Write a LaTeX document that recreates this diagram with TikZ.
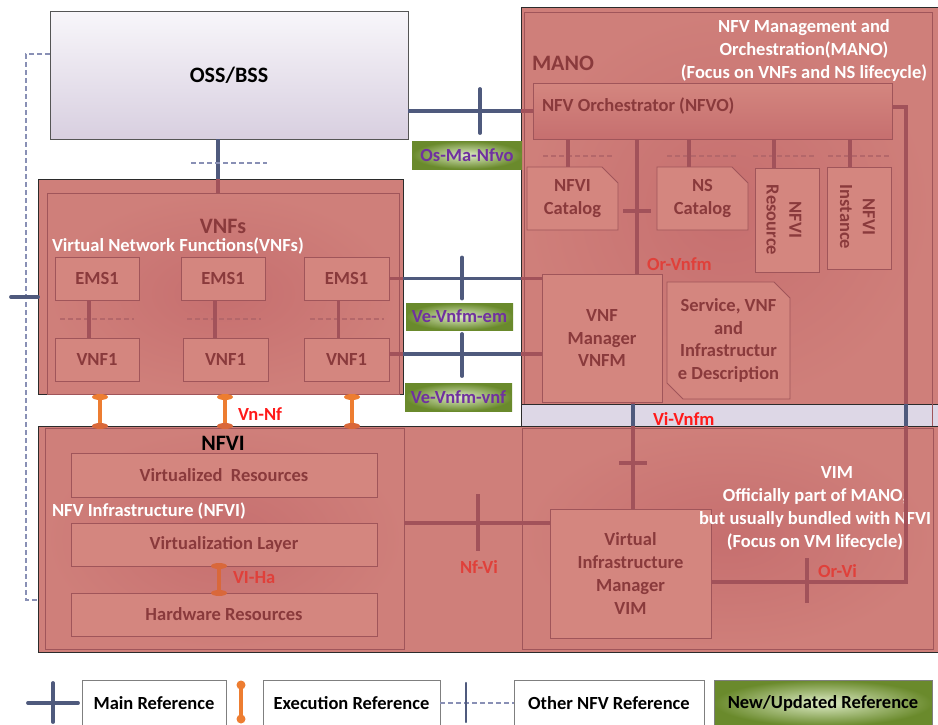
\documentclass[tikz,border=0pt]{standalone}
\usepackage{fontspec}
\setmainfont{Carlito}
\usetikzlibrary{calc,shapes.misc}

\definecolor{pinkfill}{HTML}{CF7F7A}
\definecolor{pinkdeep}{HTML}{C66F6F}
\definecolor{pinkin}{HTML}{D4867F}
\definecolor{pinkedge}{HTML}{A0555A}
\definecolor{darkred}{HTML}{8A3A3C}
\definecolor{refred}{HTML}{E0403A}
\definecolor{brightred}{HTML}{FF1A1A}
\definecolor{mainline}{HTML}{4F5A7D}
\definecolor{innerline}{HTML}{A2525A}
\definecolor{innerdash}{HTML}{B4676A}
\definecolor{otherline}{HTML}{8990B5}
\definecolor{execline}{HTML}{ED7D31}
\definecolor{execdark}{HTML}{D9683A}
\definecolor{lavtop}{HTML}{F8F6FA}
\definecolor{lavbot}{HTML}{D8CFE0}
\definecolor{bandfill}{HTML}{DDD7E6}
\definecolor{labelpurple}{HTML}{7030A0}
\definecolor{greenlight}{HTML}{DDEBC6}
\definecolor{greendark}{HTML}{6A8A2C}
\definecolor{frame}{HTML}{2B2B2B}
\definecolor{legendedge}{HTML}{7F7F7F}

\newcommand{\fsz}[2]{\fontsize{#1}{#2}\selectfont}

\begin{document}
\begin{tikzpicture}[x=1pt,y=-1pt,
  every node/.style={inner sep=0pt, outer sep=0pt},
  wh/.style 2 args={minimum width=#1pt, minimum height=#2pt},
  txt/.style={font=\bfseries\fsz{18.5}{22.7}, align=center},
  head/.style={font=\bfseries\fsz{22}{26}},
  region/.style={draw=frame, line width=1pt, fill=pinkfill},
  subregion/.style={draw=pinkedge, line width=0.9pt, inner color=pinkdeep, outer color=pinkfill},
  block/.style={draw=pinkedge, line width=0.9pt, fill=pinkin, text=darkred, txt},
  snipped/.style={block, chamfered rectangle, chamfered rectangle sep=8pt, chamfered rectangle corners={#1}},
  mainref/.style={draw=mainline, line width=3.8pt},
  innerref/.style={draw=innerline, line width=3.6pt},
  otherref/.style={draw=otherline, line width=1.3pt, dash pattern=on 5pt off 3pt},
  innerother/.style={draw=innerdash, line width=1.3pt, dash pattern=on 5pt off 3pt},
  execref/.style={draw=execline, line width=4.5pt},
  reflabel/.style={txt, text=refred},
  newref/.style={shading=radial, inner color=greenlight, outer color=greendark, text=labelpurple, txt},
  note/.style={txt, text=white, font=\bfseries\fsz{18.5}{22.8}},
  legendbox/.style={draw=legendedge, line width=0.8pt, fill=white, text=black, font=\bfseries\fsz{18.5}{22}},
]
\useasboundingbox (0,0) rectangle (938,724);
\fill[white] (0,0) rectangle (938,724);

% ---------- regions ----------
\node[draw=frame!80, line width=1pt, top color=lavtop, bottom color=lavbot, wh={358}{128}, head] (oss) at (229,75) {OSS/BSS};

\node[region, wh={365}{215}] (vnfs) at (220.5,286.5) {};
\node[subregion, wh={352}{201}] (vnfsin) at (223,293.5) {};

\node[region, wh={417}{397}] (mano) at (729.5,205.5) {};
\node[subregion, wh={408}{392}] (manoin) at (728,208) {};
\node[draw=frame, line width=1pt, fill=bandfill, wh={417}{22}] (band) at (729.5,415) {};

\node[region, wh={900}{226}] (nfviout) at (488,539) {};
\node[subregion, wh={359}{221}] (nfviin) at (224.5,538.5) {};
\node[draw=pinkedge, line width=0.9pt, inner color=pinkdeep, outer color=pinkfill, wh={411}{221}] (viminf) at (727.5,538.5) {};
\draw[draw=pinkedge, line width=0.9pt] (manoin.east |- band.north) -- (manoin.east |- band.south);

% ---------- VNF blocks ----------
\node[block, wh={84}{43}] (emsA) at (97,278.5) {EMS1};
\node[block, wh={84}{43}] (emsB) at (223,278.5) {EMS1};
\node[block, wh={85}{43}] (emsC) at (346.5,278.5) {EMS1};
\node[block, wh={84}{43}] (vnfA) at (97,359.5) {VNF1};
\node[block, wh={85}{43}] (vnfB) at (225.5,359.5) {VNF1};
\node[block, wh={85}{43}] (vnfC) at (346.5,359.5) {VNF1};

% ---------- MANO blocks ----------
\node[block, wh={359}{56}, top color=pinkin, bottom color=pinkdeep] (nfvo) at (712.5,111) {};
\node[snipped={north east}, wh={91}{63}] (cat1) at (572.5,198.5) {NFVI\\Catalog};
\node[snipped={north east}, wh={91}{63}] (cat2) at (702.5,198.5) {NS\\Catalog};
\node[snipped={south east}, wh={64}{104}] (res) at (787,220) {};
\node[snipped={south east}, wh={64}{102}] (inst) at (859,218) {};
\node[block, wh={120}{128}] (vnfm) at (602,338) {VNF\\Manager\\VNFM};
\node[snipped={north east, south west}, wh={123}{117}] (desc) at (728.5,340.5) {Service, VNF\\and\\Infrastructur\\e Description};
\node[block, wh={161}{129}] (vim) at (630.5,573.5) {Virtual\\Infrastructure\\Manager\\VIM};

% ---------- NFVI blocks ----------
\node[block, wh={306}{44}] (vres) at (224,475) {Virtualized\ \ Resources};
\node[block, wh={306}{43}] (vlayer) at (224,544.5) {Virtualization Layer};
\node[block, wh={306}{43}] (hw) at (224,614.5) {Hardware Resources};

% ---------- titles ----------
\node[head, text=darkred] (vnfstitle) at (223,226) {VNFs};
\node[note, anchor=west] (vnfsnote) at (52,246) {Virtual Network Functions(VNFs)};
\node[head, text=darkred, anchor=west] (manotitle) at (532,63) {MANO};
\node[note] (manonote) at (804,50.5) {NFV Management and\\Orchestration(MANO)\\(Focus on VNFs and NS lifecycle)};
\node[txt, text=darkred, anchor=west] (nfvotext) at (542,106) {NFV Orchestrator (NFVO)};
\node[txt, text=darkred, rotate=-90] (restext) at (784,220) {NFVI\\Resource};
\node[txt, text=darkred, rotate=-90] (insttext) at (857.5,217) {NFVI\\Instance};
\node[head, text=black] (nfvititle) at (223,443) {NFVI};
\node[note, anchor=west] (nfvinote) at (52,511) {NFV Infrastructure (NFVI)};
\node[note] (vimnote) at (815,508.5) {\hspace*{44pt}VIM\\Officially part of MANO,\\but usually bundled with NFVI\\(Focus on VM lifecycle)};

% ---------- OSS/BSS to VNFs ----------
\draw[mainref] ([xshift=-11pt]oss.south) -- ([xshift=-11pt]oss.south |- vnfs.north);
\draw[innerref] ([xshift=-11pt]oss.south |- vnfs.north) -- ([xshift=-11pt]oss.south |- vnfsin.north);
\draw[otherref] ($(oss.south)+(-38,24)$) -- ($(oss.south)+(38,24)$);

% ---------- other reference on the left ----------
\coordinate (lefttop) at (26,54);
\coordinate (leftbot) at (26,600);
\draw[otherref] (lefttop -| oss.west) -- (lefttop) -- (leftbot) -- (leftbot -| nfviout.west);
\coordinate (stub) at (11,297);
\draw[mainref, line cap=round] (stub) -- (stub -| vnfs.west);

% ---------- Os-Ma-Nfvo ----------
\draw[mainref] (nfvo.west -| oss.east) -- (nfvo.west -| mano.west);
\draw[innerref] (nfvo.west -| mano.west) -- (nfvo.west);
\draw[mainref, line cap=round] ($(nfvo.west -| oss.east)+(72,-22)$) -- ++(0,44);
\node[newref, wh={110}{28}] (osmalab) at (467,155) {Os-Ma-Nfvo};

% ---------- Ve-Vnfm-em ----------
\draw[innerref] (emsC.east) -- (emsC.east -| vnfs.east);
\draw[mainref] (emsC.east -| vnfs.east) -- (emsC.east -| mano.west);
\draw[innerref] (emsC.east -| mano.west) -- (emsC.east -| vnfm.west);
\draw[mainref, line cap=round] ($(emsC.east -| vnfs.east)+(59,-21)$) -- ++(0,41);
\node[newref, wh={107}{27}] (vemlab) at (459.5,316.5) {Ve-Vnfm-em};

% ---------- Ve-Vnfm-vnf ----------
\path ([yshift=5.5pt]vnfC.east) coordinate (vvnf);
\draw[innerref] (vvnf) -- (vvnf -| vnfs.east);
\draw[mainref] (vvnf -| vnfs.east) -- (vvnf -| mano.west);
\draw[innerref] (vvnf -| mano.west) -- (vvnf -| vnfm.west);
\draw[mainref, line cap=round] ($(vvnf -| vnfs.east)+(59,-20)$) -- ++(0,42);
\node[newref, wh={107}{28}] (vvnflab) at (458.5,397) {Ve-Vnfm-vnf};

% ---------- EMS -- VNF links ----------
\foreach \e/\v in {emsA/vnfA, emsB/vnfB, emsC/vnfC} {
  \draw[innerother] ($(\e.south)!0.5!(\v.north)+(-37,0)$) -- ++(74,0);
  \draw[innerref] ([xshift=-8pt]\e.south) -- ([xshift=-8pt]\e.south |- \v.north);
}

% ---------- Vn-Nf ----------
\foreach \dx in {-120.5, 4.5, 131.5} {
  \draw[execref] ([xshift=\dx pt]vnfs.south) -- ([xshift=\dx pt]vnfs.south |- nfviout.north);
  \fill[execline] ($([xshift=\dx pt]vnfs.south)+(0,3)$) ellipse (8 and 3);
  \fill[execdark] ([xshift=\dx pt]vnfs.south |- nfviout.north) ellipse (8 and 3);
}
\node[txt, text=brightred, anchor=west] (vnnflab) at (238,414) {Vn-Nf};

% ---------- NFVO to catalogs ----------
\foreach \n/\dx/\dl/\len in {cat1/-4.5/-29.5/69, cat2/-13.5/-35.5/70, res/-13/-34/61, inst/-9/-31/61} {
  \draw[innerother] ($(\n.north |- nfvo.south)+(\dl,17)$) -- ++(\len,0);
  \draw[innerref] ([xshift=\dx pt]\n.north |- nfvo.south) -- ([xshift=\dx pt]\n.north);
}

% ---------- Or-Vnfm ----------
\draw[innerref] ([xshift=35pt]vnfm.north |- nfvo.south) -- ([xshift=35pt]vnfm.north);
\draw[innerref] ($([xshift=35pt]vnfm.north)+(-14,-63)$) -- ++(28,0);
\node[reflabel, anchor=west] (orvnfmlab) at (647,264) {Or-Vnfm};

% ---------- Vi-Vnfm ----------
\draw[innerref] ([xshift=31pt]vnfm.south) -- ([xshift=31pt]vnfm.south |- vim.north);
\draw[mainref] ([xshift=31pt]vnfm.south |- band.north) -- ([xshift=31pt]vnfm.south |- band.south);
\draw[innerref] ($([xshift=31pt]vnfm.south |- vim.north)+(-14,-46)$) -- ++(28,0);
\node[txt, text=brightred, anchor=west] (vivnfmlab) at (653,419) {Vi-Vnfm};

% ---------- Or-Vi ----------
\coordinate (orvitop) at (906,107);
\coordinate (orvibot) at (906,582);
\draw[innerref] (orvitop -| nfvo.east) -- (orvitop) -- (orvibot) -- (orvibot -| vim.east);
\draw[mainref] (orvitop |- band.north) -- (orvitop |- band.south);
\draw[innerref] ($(orvibot)+(-99,-24)$) -- ++(0,45);
\node[reflabel, anchor=west] (orvilab) at (818,571) {Or-Vi};

% ---------- Nf-Vi ----------
\path ([yshift=50.5pt]vim.west) coordinate (nfvipt);
\draw[innerref] (nfvipt -| nfviin.east) -- (nfvipt);
\draw[innerref] ($(nfvipt -| nfviin.east)+(74,-29)$) -- ++(0,57);
\node[reflabel] (nfvilab) at (479,567) {Nf-Vi};

% ---------- VI-Ha ----------
\draw[execref, draw=execdark] ([xshift=-5pt]vlayer.south) -- ([xshift=-5pt]vlayer.south |- hw.north);
\fill[execdark] ([xshift=-5pt]vlayer.south) ellipse (8 and 3);
\fill[execdark] ([xshift=-5pt]vlayer.south |- hw.north) ellipse (8 and 3);
\node[reflabel, anchor=west] (vihalab) at (233,578) {VI-Ha};

% ---------- legend ----------
\node[legendbox, wh={144}{46}, anchor=north west] (lg1) at (82,680) {Main Reference};
\node[legendbox, wh={177}{46}, anchor=north west] (lg2) at (263,680) {Execution Reference};
\node[legendbox, wh={190}{46}, anchor=north west] (lg3) at (514,680) {Other NFV Reference};
\node[legendbox, wh={218}{46}, anchor=north west, shading=radial, inner color=greenlight, outer color=greendark, draw=legendedge] (lg4) at (714,680) {New/Updated Reference};

\coordinate (lgcross) at (53,703);
\draw[mainref, line cap=round] ($(lgcross)+(-25,0)$) -- ($(lgcross)+(25,0)$);
\draw[mainref, line cap=round] ($(lgcross)+(0,-20)$) -- ($(lgcross)+(0,19)$);

\coordinate (lgexec) at (241,702);
\draw[execref] ($(lgexec)+(0,-17)$) -- ($(lgexec)+(0,17)$);
\fill[execline] ($(lgexec)+(0,-17)$) circle (4.5);
\fill[execline] ($(lgexec)+(0,17)$) circle (4.5);

\draw[otherref] (lg2.east |- lgcross) -- (lg3.west |- lgcross);
\draw[draw=mainline, line width=2.4pt, line cap=round] ($(lg2.east |- lgcross)+(26,-20)$) -- ++(0,39);
\end{tikzpicture}
\end{document}
